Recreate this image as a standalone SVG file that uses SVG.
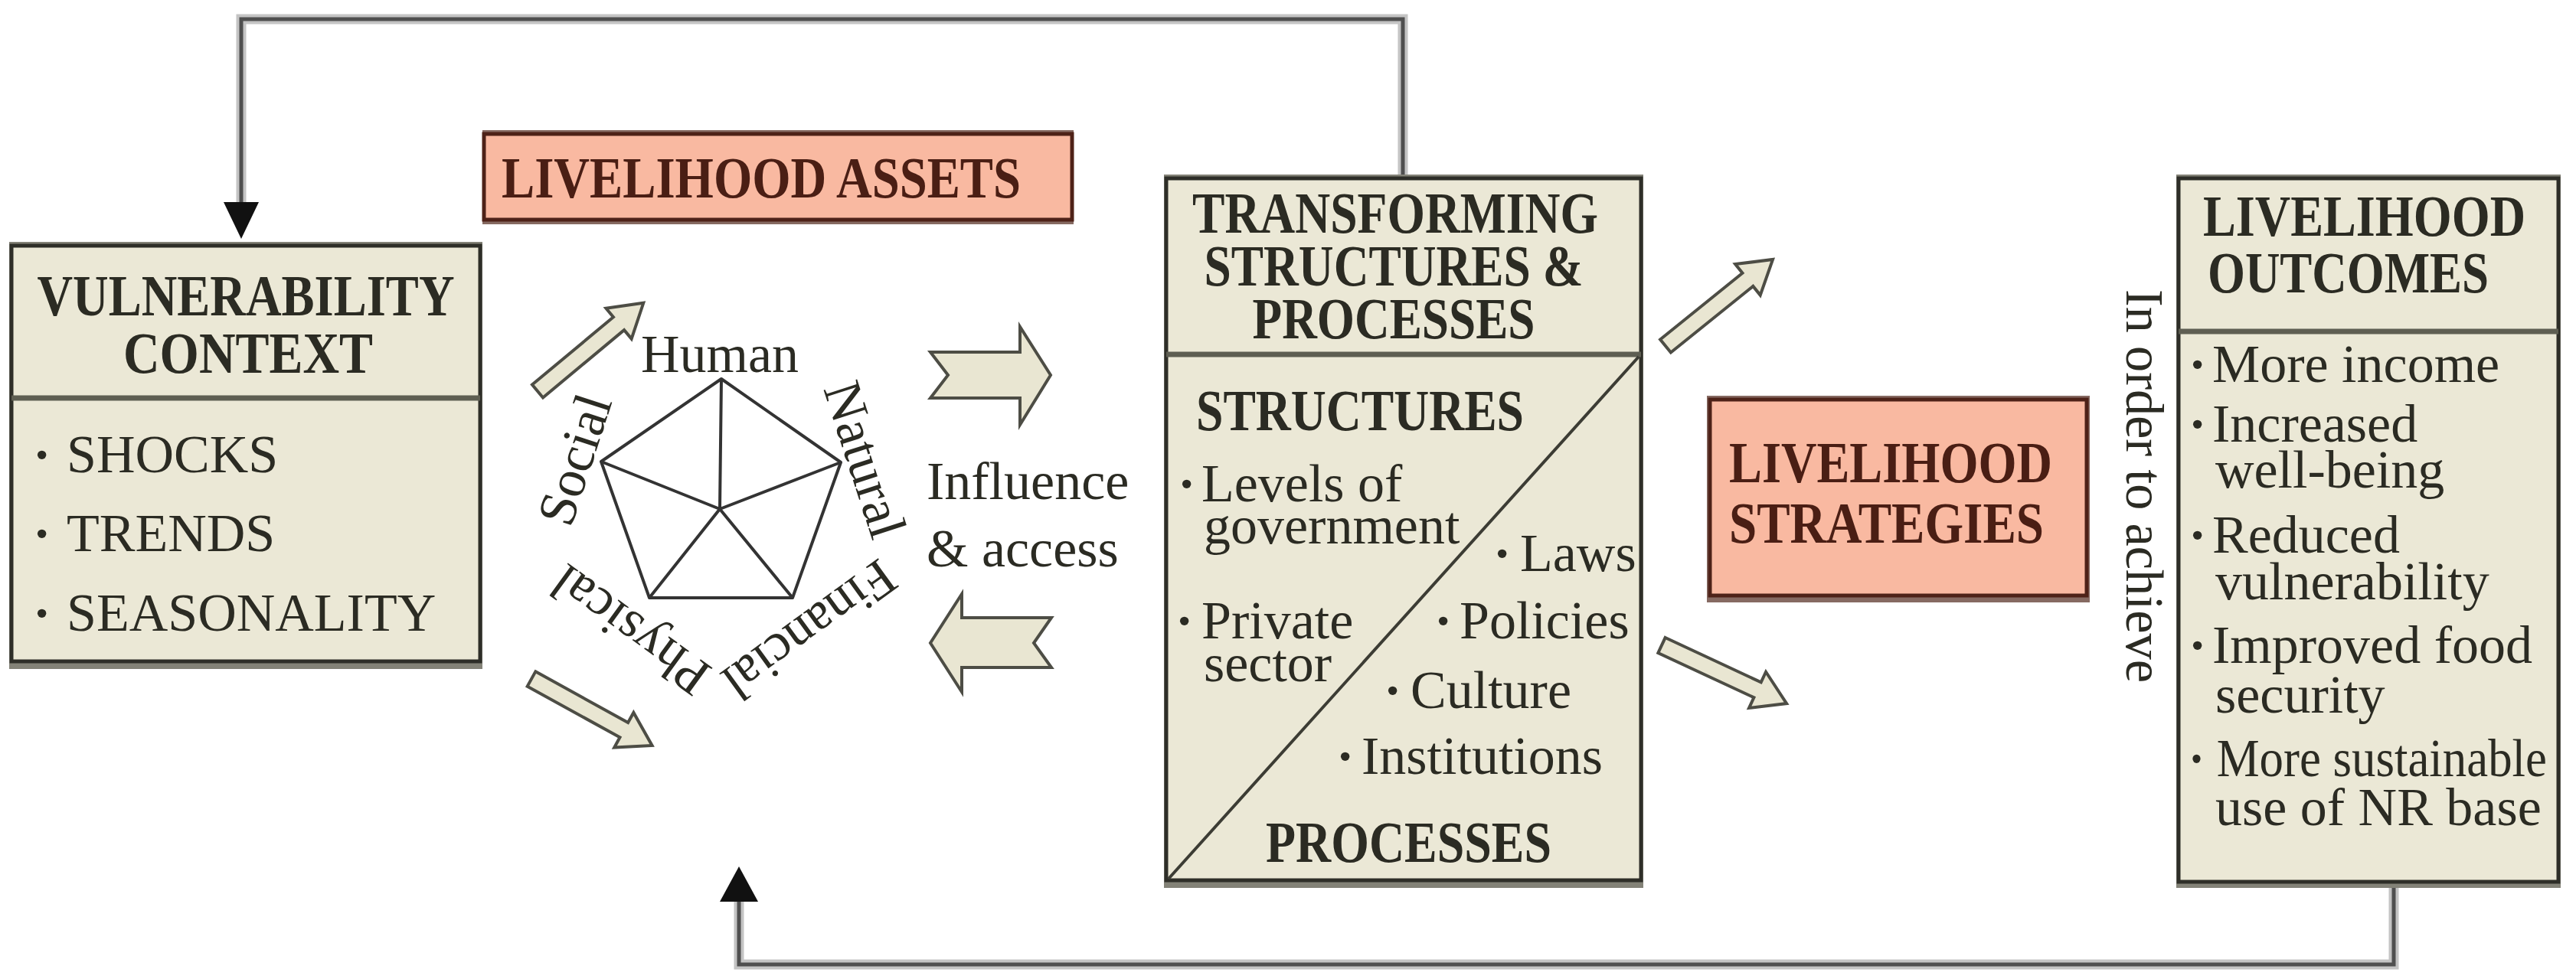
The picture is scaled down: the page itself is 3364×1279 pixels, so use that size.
<svg xmlns="http://www.w3.org/2000/svg" xmlns:xlink="http://www.w3.org/1999/xlink" width="3364" height="1279" viewBox="0 0 3364 1279">
<style>
.bg{fill:#ffffff}
.box{fill:#ebe8d6;stroke:#2e2e28;stroke-width:5}
.shd{fill:#838277}
.sal{fill:#f9b9a1;stroke:#4e2218;stroke-width:5}
.salshd{fill:#866a62}
.dv{stroke:#5e5e52;stroke-width:7}
.hd{font-family:"Liberation Serif","Times New Roman",serif;font-weight:bold;font-size:76px;fill:#2b2b23}
.bd{font-family:"Liberation Serif","Times New Roman",serif;font-size:70px;fill:#2b2b23}
.st{fill:#4a1e14}
.b{font-weight:bold}
.barrow{fill:#e9e6d2;stroke:#4d4d45;stroke-width:4;stroke-linejoin:miter}
.halo{fill:none;stroke:#c4c4c4;stroke-width:13}
.ln{fill:none;stroke:#4f4f4f;stroke-width:5}
.ah{fill:#111111}
.pent{fill:none;stroke:#333333;stroke-width:4;stroke-linejoin:round}
</style>
<defs>
<path id="darr" d="M0,-11 H138 V-26 L180,0 L138,26 V11 H0 Z"/>
</defs>
<rect class="bg" x="0" y="0" width="3364" height="1279"/>

<g id="connectors">
  <path class="halo" d="M1832,233 V25 H315 V265"/>
  <path class="ln" d="M1832,233 V25 H315 V265"/>
  <polygon class="ah" points="292,264 338,264 315,312"/>
  <path class="halo" d="M3126,1156 V1260 H965 V1176"/>
  <path class="ln" d="M3126,1156 V1260 H965 V1176"/>
  <polygon class="ah" points="940,1178 990,1178 965,1132"/>
  <use xlink:href="#darr" class="barrow" transform="translate(702,511) rotate(-39.8)"/>
  <use xlink:href="#darr" class="barrow" transform="translate(694,887) rotate(28.9)"/>
  <use xlink:href="#darr" class="barrow" transform="translate(2175,452) rotate(-38.9)"/>
  <use xlink:href="#darr" class="barrow" transform="translate(2170,843) rotate(25)"/>
  <polygon class="barrow" points="1215,460 1332,460 1332,427 1372,490 1332,555 1332,520 1215,520 1238,490"/>
  <polygon class="barrow" points="1373,807 1256,807 1256,776 1215,840 1256,904 1256,872 1373,872 1350,840"/>
</g>

<g id="vulnerability-context">
  <rect class="shd" x="12" y="316" width="618" height="558"/>
  <rect class="box" x="15" y="321" width="612" height="543"/>
  <line class="dv" x1="15" y1="520" x2="627" y2="520"/>
  <text class="hd" x="321" y="412" text-anchor="middle" textLength="545" lengthAdjust="spacingAndGlyphs">VULNERABILITY</text>
  <text class="hd" x="324" y="487" text-anchor="middle" textLength="326" lengthAdjust="spacingAndGlyphs">CONTEXT</text>
  <text class="bd" y="617" font-size="67"><tspan x="43" class="b">· </tspan><tspan x="87">SHOCKS</tspan></text>
  <text class="bd" y="720" font-size="67"><tspan x="43" class="b">· </tspan><tspan x="87">TRENDS</tspan></text>
  <text class="bd" y="824" font-size="67"><tspan x="43" class="b">· </tspan><tspan x="87">SEASONALITY</tspan></text>
</g>

<g id="livelihood-assets">
  <rect class="salshd" x="630" y="170" width="772" height="123"/>
  <rect class="sal" x="632" y="175" width="768" height="112"/>
  <text class="hd st" x="655" y="258" font-size="80" textLength="678" lengthAdjust="spacingAndGlyphs">LIVELIHOOD ASSETS</text>
</g>

<g id="asset-pentagon">
  <polygon class="pent" points="942,495 1098,604 1035,781 848,781 785,603"/>
  <path class="pent" d="M942,495 L940,665 M1098,604 L940,665 M1035,781 L940,665 M848,781 L940,665 M785,603 L940,665"/>
  <text class="bd" x="940" y="486" text-anchor="middle" font-size="71">Human</text>
  <text class="bd" x="940" y="486" text-anchor="middle" font-size="71" transform="rotate(72 940 662)">Natural</text>
  <text class="bd" x="940" y="486" text-anchor="middle" font-size="71" transform="rotate(144 940 662)">Financial</text>
  <text class="bd" x="940" y="486" text-anchor="middle" font-size="71" transform="rotate(216 940 662)">Physical</text>
  <text class="bd" x="940" y="486" text-anchor="middle" font-size="71" transform="rotate(288 940 662)">Social</text>
</g>

<g id="influence-access">
  <text class="bd" x="1210" y="652" font-size="71">Influence</text>
  <text class="bd" x="1210" y="740" font-size="71">&amp; access</text>
</g>

<g id="transforming-structures">
  <rect class="shd" x="1520" y="228" width="626" height="932"/>
  <rect class="box" x="1523" y="233" width="620" height="917"/>
  <line class="dv" x1="1523" y1="463" x2="2143" y2="463"/>
  <line x1="2140" y1="466" x2="1526" y2="1148" stroke="#3c3c34" stroke-width="4"/>
  <text class="hd" x="1822" y="304" text-anchor="middle" textLength="530" lengthAdjust="spacingAndGlyphs">TRANSFORMING</text>
  <text class="hd" x="1820" y="373" text-anchor="middle" textLength="495" lengthAdjust="spacingAndGlyphs">STRUCTURES &amp;</text>
  <text class="hd" x="1820" y="442" text-anchor="middle" textLength="369" lengthAdjust="spacingAndGlyphs">PROCESSES</text>
  <text class="hd" x="1562" y="562" textLength="428" lengthAdjust="spacingAndGlyphs">STRUCTURES</text>
  <text class="bd" y="655" font-size="72"><tspan x="1538" class="b">· </tspan><tspan x="1569">Levels of</tspan></text>
  <text class="bd" x="1572" y="710" font-size="72">government</text>
  <text class="bd" y="834" font-size="72"><tspan x="1535" class="b">· </tspan><tspan x="1569">Private</tspan></text>
  <text class="bd" x="1572" y="890" font-size="72">sector</text>
  <text class="bd" y="746" font-size="72"><tspan x="1950" class="b">· </tspan><tspan x="1985">Laws</tspan></text>
  <text class="bd" y="834" font-size="72"><tspan x="1873" class="b">· </tspan><tspan x="1906">Policies</tspan></text>
  <text class="bd" y="925" font-size="72"><tspan x="1807" class="b">· </tspan><tspan x="1842">Culture</tspan></text>
  <text class="bd" y="1011" font-size="72"><tspan x="1745" class="b">· </tspan><tspan x="1778">Institutions</tspan></text>
  <text class="hd" x="1653" y="1126" textLength="373" lengthAdjust="spacingAndGlyphs">PROCESSES</text>
</g>

<g id="livelihood-strategies">
  <rect class="salshd" x="2229" y="517" width="500" height="270"/>
  <rect class="sal" x="2233" y="522" width="492" height="256"/>
  <text class="hd st" x="2258" y="630" textLength="422" lengthAdjust="spacingAndGlyphs">LIVELIHOOD</text>
  <text class="hd st" x="2258" y="709" textLength="411" lengthAdjust="spacingAndGlyphs">STRATEGIES</text>
</g>

<g id="in-order-to-achieve">
  <text class="bd" font-size="66" transform="translate(2777,378) rotate(90)" textLength="514" lengthAdjust="spacingAndGlyphs">In order to achieve</text>
</g>

<g id="livelihood-outcomes">
  <rect class="shd" x="2842" y="228" width="502" height="932"/>
  <rect class="box" x="2845" y="233" width="496" height="919"/>
  <line class="dv" x1="2845" y1="433" x2="3341" y2="433"/>
  <text class="hd" x="2877" y="308" font-size="69" textLength="421" lengthAdjust="spacingAndGlyphs">LIVELIHOOD</text>
  <text class="hd" x="2883" y="382" textLength="367" lengthAdjust="spacingAndGlyphs">OUTCOMES</text>
  <text class="bd" y="499"><tspan x="2858" class="b">· </tspan><tspan x="2889">More income</tspan></text>
  <text class="bd" y="577"><tspan x="2858" class="b">· </tspan><tspan x="2889">Increased</tspan></text>
  <text class="bd" x="2893" y="637">well-being</text>
  <text class="bd" y="722"><tspan x="2858" class="b">· </tspan><tspan x="2889">Reduced</tspan></text>
  <text class="bd" x="2893" y="783">vulnerability</text>
  <text class="bd" y="866"><tspan x="2858" class="b">· </tspan><tspan x="2889">Improved food</tspan></text>
  <text class="bd" x="2893" y="931">security</text>
  <text class="bd" x="2858" y="1014" font-size="65" textLength="468" lengthAdjust="spacingAndGlyphs"><tspan class="b">·</tspan> More sustainable</text>
  <text class="bd" x="2893" y="1078">use of NR base</text>
</g>
</svg>
